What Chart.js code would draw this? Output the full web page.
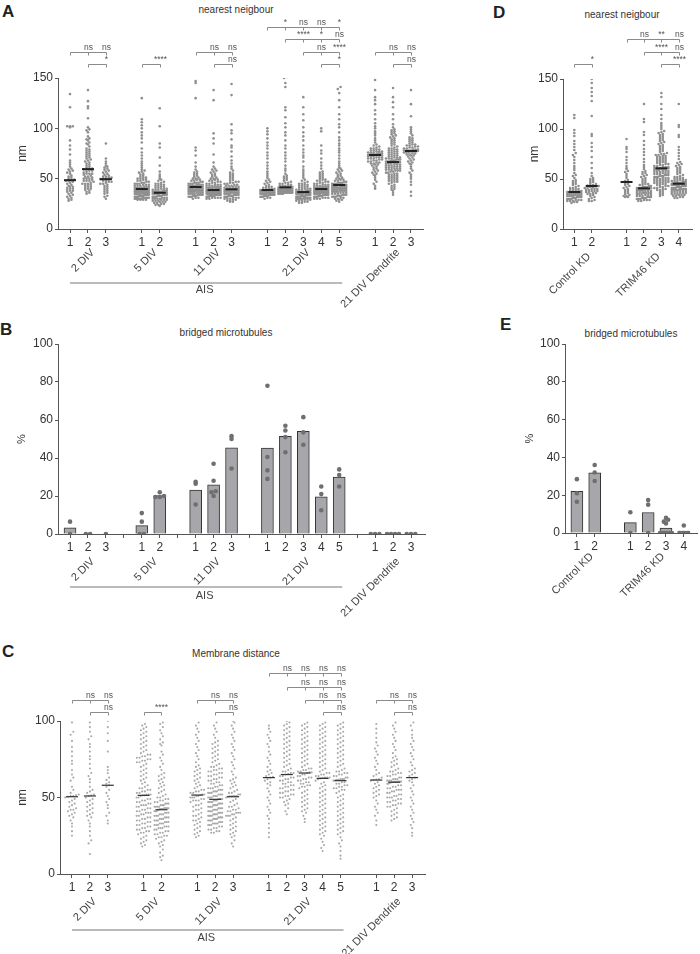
<!DOCTYPE html>
<html><head><meta charset="utf-8">
<script src="https://cdn.jsdelivr.net/npm/chart.js@4.4.1/dist/chart.umd.min.js"></script>
<style>
body{margin:0;background:#fff;width:700px;height:954px;position:relative;overflow:hidden;font-family:'Liberation Sans',Arial,Helvetica,sans-serif;}
canvas{position:absolute;}
.t{position:absolute;font-size:10px;color:#333;transform:translate(-50%,-50%);white-space:nowrap;line-height:12px;}
.L{position:absolute;font-size:17px;font-weight:bold;color:#222;line-height:17px;}
</style></head><body>
<div class="L" style="left:2px;top:3px">A</div>
<div class="L" style="left:0px;top:321px">B</div>
<div class="L" style="left:2px;top:643px">C</div>
<div class="L" style="left:493px;top:4px">D</div>
<div class="L" style="left:500px;top:316px">E</div>
<div class="t" style="left:236px;top:10px">nearest neigbour</div>
<div class="t" style="left:622px;top:15px">nearest neigbour</div>
<div class="t" style="left:226px;top:333px">bridged microtubules</div>
<div class="t" style="left:631px;top:334px">bridged microtubules</div>
<div class="t" style="left:236px;top:654px">Membrane distance</div>
<script>
// ---------------- DATA ----------------
const groupsMain = ['2 DIV','5 DIV','11 DIV','21 DIV','21 DIV Dendrite'];
const groupSizesMain = [3,2,3,5,3];
const groupsKD = ['Control KD','TRIM46 KD'];
const groupSizesKD = [2,4];
const aisLabel = 'AIS';
const aisGroups = [0,3];

// Panel A: nearest neighbour (nm)
const nnA_2DIV = [
 [134,121,102,102,102,101,88,83,79,74,68,66,64,62,60,59,58,57,56,55,53,52,51,50,49,48.5,48,48,47,46,45,44,43,42,41,40,40,39,38,37,35,34,33,31,30,29,28,42,38,36,32],
 [138,127,122,120,110,101,99,98,96,92,90,89,88,86,85,84,82,80,79,78,77,76,75,74,73,72,71,70,69,68,67,66,65,64,63,62,61,60,60,59,59,58,58,57,56,55,55,54,53,52,52,51,50,50,49,48,48,47,46,45,45,44,43,42,42,41,40,40,39,38,37,36,35,45,50,55,48,44],
 [85,70,67,65,63,62,61,60,59,58,57,56,55,54,53,52,52,51,51,50,50,49.5,49,48,48,47,47,46,45,45,44,43,42,41,40,39,38,37,36,35,33,32,30]
];
const nnA_5DIV = [
 [130,109,106,103,100,96,93,90,86,80,76,73,70,67,65,63,61,59,58,57,56,55,54,53,52,51,51,50,50,49,49,48,48,47,47,46,46,45,45,45,44,44,44,43,43,43,42,42,42,41,41,41,41,40,40,40,40,39.7,39,39,39,39,38,38,38,38,37,37,37,37,36,36,36,36,35,35,35,35,34,34,34,34,33,33,33,33,32,32,32,32,31,31,31,31,30,30,30,30,29,29,29,29,39,38,37,36,35,34,33,32,31,30,38,36,34],
 [120,102,85,81,71,63,57,54,52,50,49,48,47,46,45,45,44,44,43,43,42,42,41,41,40,40,40,39,39,39,38,38,38,37,37,37,37,37,36,36,36,36,35,35,35,35,34,34,34,34,33,33,33,33,32,32,32,32,31,31,31,30,30,30,30,29,29,29,28,28,28,27,27,27,26,26,25,25,24,24,23]
];
const nnA_11DIV = [
 [147,145,130,81,78,73,66,62,59,57,56,55,54,53,52,51,50,50,49,49,48,48,47,47,46,46,46,45,45,45,44,44,44,44,43,43,43,43,42,42,42,42,42,42,42,41.7,41,41,41,41,41,40,40,40,40,40,39,39,39,39,39,38,38,38,38,38,37,37,37,37,36,36,36,36,35,35,35,35,34,34,34,34,33,33,33,32,32,32,31,31,30],
 [138,128,95,90,85,74,66,62,60,59,58,57,56,55,54,53,52,51,50,50,49,49,48,48,47,47,46,46,45,45,44,44,44,43,43,43,42,42,42,42,41,41,41,41,40,40,40,40,40,39,39,39,39,39,39,38.7,38,38,38,38,38,38,37,37,37,37,37,37,36,36,36,36,36,36,35,35,35,35,35,35,34,34,34,34,34,34,33,33,33,33,33,33,32,32,32,32,31,31,31,31,30,30,38,37,36,35,34,33,36,35,34],
 [144,133,104,98,95,89,83,81,77,72,68,65,62,60,58,56,55,54,53,52,51,50,49,48,47,47,46,46,45,45,44,44,43,43,43,42,42,42,41,41,41,40,40,40,40,39.4,39,39,39,39,38,38,38,38,37,37,37,37,36,36,36,36,35,35,35,35,34,34,34,34,33,33,33,33,32,32,32,31,31,31,30,30,30,29,29,28,28,27,27,39,36]
];
const nnA_21DIV = [
 [100,97,94,90,86,83,80,76,73,70,66,63,60,57,55,53,51,49,48,47,46,45,44,43,42,42,41,41,40,40,40,39,39,38.7,38,38,38,38,37,37,37,37,36,36,36,36,35,35,35,35,34,34,34,34,33,33,33,33,32,32,32,31,31,30,36,35,34],
 [151,150,145,141,121,118,111,105,101,96,93,88,83,80,76,73,70,67,63,60,58,55,53,52,51,50,49,48,47,46,46,45,45,44,44,43,43,43,42,42,42,42,41.4,41,41,41,41,41,40,40,40,40,40,39,39,39,39,39,38,38,38,38,38,37,37,37,37,37,36,36,36,36,36,35,35,35,35,40,39,38,37,36,41,39,37],
 [131,121,114,108,101,96,92,88,83,79,76,73,71,67,62,59,57,55,53,51,49,48,47,46,45,45,44,44,43,43,42,42,41,41,40,40,40,39,39,39,38,38,38,38,37,37,37,37,37,37,36.7,36,36,36,36,36,35,35,35,35,35,34,34,34,34,34,33,33,33,33,33,32,32,32,32,32,31,31,31,31,30,30,30,30,29,29,29,28,28,28,27,27,26,26,36,35,34,33,32,31,30],
 [100,97,83,78,75,70,66,63,60,57,56,55,54,53,52,51,50,49,49,48,48,47,47,46,46,45,45,44,44,44,43,43,43,42,42,42,42,41,41,41,41,40,40,40,40,40,40,40,40,40,39.7,39,39,39,39,39,39,38,38,38,38,38,38,37,37,37,37,37,36,36,36,36,36,35,35,35,35,35,34,34,34,34,34,33,33,33,33,32,32,32,32,31,31,31,30,30,30,39,38,37,36],
 [141,139,135,128,121,114,109,104,101,96,91,88,85,83,80,78,76,73,70,67,65,63,61,60,59,58,57,56,55,54,53,52,51,50,50,49,49,48,48,47,47,46,46,46,45,45,45,44,44,44,44,44,43.7,43,43,43,43,42,42,42,42,41,41,41,41,40,40,40,40,39,39,39,39,38,38,38,38,37,37,37,37,36,36,36,35,35,35,34,34,34,33,33,33,32,32,32,31,31,30,30,29,29,28,27,40]
];
const nnA_Dend = [
 [148,138,131,128,124,118,114,109,105,102,100,97,95,93,90,88,86,84,83,82,81,80,80,79,79,78,78,77,77,77,76,76,76,75,75,75,75,74,74,74,74,74,73.5,73,73,73,72,72,72,71,71,71,70,70,70,69,69,68,68,67,67,66,66,65,65,64,64,63,62,61,60,59,58,57,56,55,54,53,51,49,47,45,43,41,40],
 [140,131,126,121,114,109,104,101,99,98,97,96,95,94,93,92,91,90,89,88,87,86,85,84,83,82,81,80,80,79,79,78,78,77,77,76,76,75,75,74,74,73,73,72,72,71,71,71,70,70,70,69,69,69,68,68,68,67,67,67,66.5,66,66,66,65,65,65,64,64,64,63,63,63,62,62,62,61,61,61,60,60,60,59,59,59,58,58,58,57,57,56,56,55,55,54,54,53,53,52,52,51,51,50,50,49,49,48,48,47,47,46,45,44,43,42,41,40,39,38,36,34],
 [138,124,112,101,99,97,95,93,91,90,89,88,87,86,85,84,84,83,83,82,82,81,81,80,80,79,79,79,78,78,78,78,77.5,77,77,77,76,76,76,75,75,74,74,73,73,72,71,70,69,68,67,66,65,64,62,60,58,56,54,52,50,47,44,37,33]
];

// Panel B: bridged microtubules (%) per experiment
const brB_2DIV = [[6.5,0],[0,0],[0]];
const brB_5DIV = [[11,6.5,0,0],[22,20,19.5,19.5]];
const brB_11DIV = [[27.5,26.5,15.5],[37,28,22.5,22,20],[51.5,50,34.5]];
const brB_21DIV = [[78,40.5,33.5,29],[57,54.5,51,43],[61.5,53.5,47],[25,21,12.5],[34,31,25]];
const brB_Dend = [[0,0,0],[0,0,0,0],[0,0,0]];

// Panel C: membrane distance (nm)
const mdC_2DIV = [
 [99,93,91,87,83,80,77,74,72,68,65,63,61,57,55,53,52,51.5,51,51,50.5,50,49,48,47,46,45,44,43,42,42,41,40,39,38,37,35,33,31,28,25],
 [99,96,93,90,88,85,83,80,77,75,72,69,66,64,62,60,57,55,54,53,52,51.5,51,50,49,48,47,46,45,44,43,42,41,40,39,38,37,35,33,31,28,25,22,20,13],
 [100,96,92,87,80,70,68,66,63,61.5,60,59,58,57,55,53,51,49,47,45,43,40,38,35,33]
];
const mdC_5DIV = [
 [98,97,96,95,94,93,92,91,90,89,88,87,86,85,84,83,82,81,80,79,78,78,77,77,76,76,75,75,74,74,73,73,72,71,70,69,68,67,66,65,64,63,62,61,60,59,58,57,56,56,55,55,54,54,53,53,52,52,52,51.5,51.4,51,50,50,49,49,48,48,47,47,46,46,45,45,44,44,43,43,42,42,41,41,40,40,39,39,38,38,37,37,36,36,35,35,34,34,33,33,32,32,31,31,30,30,29,29,28,28,27,27,26,25,24,23,22,21,20,19,18,45,40],
 [99,98,96,94,92,90,88,86,85,84,80,78,76,74,72,70,68,66,65,64,63,62,61,60,59,58,57,56,55,54,53,52,51,50,50,49,49,48,48,47,47,46,46,46,45,45,45,44,44,44,44,43,43,43,43,43,42.5,42.5,42.5,42.5,42,42,41,41,41,40,40,40,39,39,39,38,38,38,37,37,37,36,36,36,35,35,35,34,34,34,33,33,33,32,32,32,31,31,31,30,30,30,29,29,28,28,27,27,26,26,25,25,24,24,23,22,21,20,19,18,16,14,12,11,9]
];
const mdC_11DIV = [
 [99,97,95,93,91,89,87,85,83,81,79,77,75,73,71,70,69,68,67,66,65,64,63,62,61,60,59,58,57,56,55,55,54,54,53,53,52,52,51.6,51,51,50,50,49,49,48,48,47,46,45,44,43,42,41,40,39,38,37,36,35,34,33,32,31,30,29,28,27,26,25,24,50,48,45,42,38,35],
 [99,97,95,93,91,89,87,86,85,84,83,82,81,80,79,78,77,76,75,74,73,72,71,70,70,69,69,68,68,67,67,66,66,65,65,64,64,63,63,62,62,61,61,60,60,59,59,58,58,57,57,56,56,56,55,55,55,54,54,54,53,53,53,52,52,52,51,51,51,50,50,50,49,49,49,48.8,48,48,48,47,47,47,46,46,46,45,45,45,44,44,44,43,43,43,42,42,42,41,41,41,40,40,40,39,39,39,38,38,38,37,37,37,36,36,36,35,35,35,34,34,34,33,33,33,32,32,32,31,31,30,30,29,29,28,28,27,27,47,45,43,41,39,37,35,33,46,44,42,40,38,36],
 [100,99,97,95,93,91,89,87,85,83,81,79,77,75,73,71,69,67,65,63,62,61,60,59,58,57,56,55,54,53,53,52,52,51,51,51,50.8,50.8,50.5,50,49,48,47,46,45,44,43,42,41,41,40,40,39,39,38,38,37,36,35,34,33,32,31,30,29,28,27,26,25,24,22,20,18,44,42,40,38]
];
const mdC_21DIV = [
 [97,95,93,91,89,87,85,83,80,78,76,74,72,70,68,67,66,65,64,63.5,63,62,61,60,59,58,56,54,52,50,48,46,44,42,40,38,36,33,30,27,24],
 [100,99,98,97,96,95,94,93,92,91,90,89,88,87,86,85,84,83,82,81,80,79,78,77,76,75,74,73,72,71,70,69,68,67,67,66,66,65.5,65,64,64,63,63,62,62,61,61,60,60,59,59,58,58,57,57,56,56,55,55,54,54,53,53,52,52,51,51,50,50,49,48,47,46,45,43,41,39],
 [99,98,97,96,95,94,93,92,91,90,89,88,87,86,85,84,83,82,81,80,79,78,77,76,75,74,73,72,71,70,69,69,68,68,67,67,66.5,66.5,66,65,65,64,64,63,63,62,62,61,61,60,60,59,59,58,58,57,57,56,55,54,53,52,51,50,49,48,47,46,45,44,43,42,41,40,38,36,34],
 [99,98,97,96,95,94,93,92,91,90,89,88,87,86,85,84,83,82,81,80,79,78,77,76,75,74,73,72,71,70,69,68,67,66,66,65,65,64,64,63,63,63,62.8,62.5,62,61,60,59,58,57,56,55,54,53,52,51,50,49,48,47,46,45,44,43,42,41,40,39,38,37,36,35,34,33,32,31,30,29,28,27,26,25,23,21,19,17,15],
 [99,98,97,96,95,94,93,92,91,90,89,88,87,86,85,84,83,82,81,80,79,78,77,76,75,74,73,72,71,70,69,68,67,67,66,66,65,65,64,64,63,63,62,62,62,61.5,61.5,61.2,61,60,60,59,59,58,58,57,57,56,56,55,55,54,53,52,51,50,49,48,47,46,45,44,43,42,41,40,39,38,37,36,35,34,33,32,31,30,29,28,27,26,24,22,20,18,15,12,10]
];
const mdC_Dend = [
 [98,95,92,89,86,84,82,80,78,76,74,72,70,68,66,65,64,63,62,61.8,61.4,61,60,59,58,57,56,55,54,53,52,51,50,48,46,44,42,40,38,35,32],
 [99,97,95,93,91,89,87,85,83,81,79,77,76,75,74,73,72,71,70,69,68,67,67,66,66,65,65,64,64,63,63,62,62,62,61,61,61,60.5,60.5,60.5,60.3,60.3,60.2,60.2,60.1,60,59.8,59.5,59,59,58,58,57,57,56,56,55,55,54,54,53,53,52,52,51,51,50,50,49,49,48,48,47,47,46,46,45,45,44,44,43,42,41,40,39,38,37,36,35,55,50],
 [99,97,94,91,89,87,85,83,81,79,77,75,73,71,69,68,67,66,65,64,63,62,61,60,58,56,54,52,50,48,46,44,42,40,38,36,34,32,30,27,25]
];

// Panel D: nearest neighbour (nm), knock-down
const nnD_Control = [
 [114,111,99,96,93,88,85,82,79,76,74,72,69,66,63,61,59,56,54,53,51,49,48,47,46,45,44,43,42,41,41,40,40,39,39,38,38,38,37,37,37,36,36,36,35,35,35,35,34,34,34,33,33,33,33,32,32,32,31,31,31,30,30,30,29,29,29,28,28,27,27,26,36,34,32,30,28],
 [150,146,141,137,133,128,113,95,93,86,82,78,72,66,61,56,53,51,50,49,48,47,46,45,44,44,43.5,43,42.5,42,42,41,41,40,40,39,39,38,38,37,37,36,36,35,35,34,33,32,31,30,29,28,28,40,38]
];
const nnD_TRIM = [
 [90,82,80,77,72,69,66,63,61,60,58,57,55,53,51,49,48,47,46,45,44,43,42,41,40,39,38,37,36,35,34,33,33,32,32],
 [125,110,107,97,94,88,84,80,77,74,70,67,64,62,60,58,57,56,55,54,53,52,51,50,49,48,47,46,45,45,44,44,43,43,42,42,42,41,41,41,40.7,40,40,40,39,39,39,38,38,38,37,37,37,36,36,36,35,35,35,34,34,34,33,33,33,32,32,32,31,31,31,30,30,30,29,29,29,28,28,39,36],
 [136,132,125,120,114,110,106,104,102,100,98,97,96,95,94,93,92,91,90,89,88,87,86,85,84,83,82,81,80,79,78,77,76,75,75,74,74,73,73,72,72,71,71,70,70,69,69,68,68,67,67,66,66,65,65,64,64,63,63,62,62,62,61,61,61,60.7,60,60,60,59,59,59,58,58,58,57,57,57,56,56,56,55,55,55,54,54,54,53,53,53,52,52,52,51,51,51,50,50,50,49,49,49,48,48,48,47,47,47,46,46,46,45,45,44,44,43,43,42,42,41,41,40,40,39,39,38,37,36,35,34,33],
 [125,104,102,94,92,82,79,76,73,70,67,66,65,64,63,62,61,60,59,58,57,56,55,54,53,52,52,51,51,50,50,49,49,49,48,48,48,47,47,47,47,46,46,46,46,46,46,45.5,45.5,45.5,45.3,45,45,45,45,44,44,44,44,43,43,43,43,42,42,42,42,41,41,41,41,40,40,40,40,39,39,39,39,38,38,38,37,37,37,36,36,36,35,35,35,34,34,34,33,33,32,32,31,31,44]
];

// Panel E: bridged microtubules (%), knock-down
const brE_Control = [[28.5,21,16.5],[36,32,27.5]];
const brE_TRIM = [[11,0],[17.5,15,0],[8,7,6,5,0,0,0,0,0,0],[4,0,0,0]];

// Significance: [group, row, first category, labels for following categories]
const sigA = [[0,2,0,['ns','ns']],[0,3,1,['*']],[1,3,0,['****']],[2,2,0,['ns','ns']],[2,3,1,['ns']],
  [3,0,0,['*','ns','ns','*']],[3,1,1,['****','*','ns']],[3,2,2,['ns','****']],[3,3,3,['*']],[4,2,0,['ns','ns']],[4,3,1,['ns']]];
const sigC = [[0,2,0,['ns','ns']],[0,3,1,['ns']],[1,3,0,['****']],[2,2,0,['ns','ns']],[2,3,1,['ns']],
  [3,0,0,['ns','ns','ns','ns']],[3,1,1,['ns','ns','ns']],[3,2,2,['ns','ns']],[3,3,3,['ns']],[4,2,0,['ns','ns']],[4,3,1,['ns']]];
const sigD = [[0,3,0,['*']],[1,1,0,['ns','**','ns']],[1,2,1,['****','ns']],[1,3,2,['****']]];

// ---------------- RENDERING ----------------
const FONT = "'Liberation Sans', Arial, Helvetica, sans-serif";
Chart.defaults.font.family = FONT;
const AX = '#555';

function catPositions(sizes){const p=[];let x=1;sizes.forEach(n=>{for(let i=0;i<n;i++){p.push(x);x++;}x++;});return p;}
function median(a){const s=[...a].sort((x,y)=>x-y);const n=s.length;return n%2?s[(n-1)/2]:(s[n/2-1]+s[n/2])/2;}
function mean(a){return a.reduce((s,v)=>s+v,0)/a.length;}

function swarm(vals,pos,chart,st){
  const xs=chart.scales.x, ys=chart.scales.y;
  const ppu=xs.getPixelForValue(pos+1)-xs.getPixelForValue(pos);
  const rows=new Map();
  [...vals].sort((a,b)=>a-b).forEach(v=>{const k=Math.round(ys.getPixelForValue(v)/st.rowH);if(!rows.has(k))rows.set(k,[]);rows.get(k).push(v);});
  const out=[];
  rows.forEach(r=>{const n=r.length;let s=st.sp;if(n>1&&(n-1)*s>st.maxW)s=st.maxW/(n-1);
    r.forEach((v,i)=>out.push({x:pos+((i-(n-1)/2)*s)/ppu,y:v}));});
  return out;
}

const decor={id:'decor',afterDraw(chart){
  const c=chart.$cfg; if(!c) return;
  const P=c.P, ctx=chart.ctx, xs=chart.scales.x, a=chart.chartArea;
  const px=v=>xs.getPixelForValue(v);
  ctx.save();
  ctx.fillStyle='#333'; ctx.font=P.ytf+'px '+FONT; ctx.textAlign='center'; ctx.textBaseline='middle';
  ctx.save(); ctx.translate(a.left-P.ytOff,(a.top+a.bottom)/2); ctx.rotate(-Math.PI/2); ctx.fillText(P.ytitle,0,0); ctx.restore();
  ctx.font=P.glf+'px '+FONT; ctx.fillStyle='#444'; ctx.textAlign='right'; ctx.textBaseline='top';
  c.groupIdx.forEach((idx,g)=>{const cx=(px(c.pos[idx[0]])+px(c.pos[idx[idx.length-1]]))/2;
    ctx.save(); ctx.translate(cx+P.glDx,a.bottom+P.glDy); ctx.rotate(-Math.PI/4); ctx.fillText(P.names[g],0,0); ctx.restore();});
  if(P.ais){
    const i0=c.groupIdx[aisGroups[0]][0], gl=c.groupIdx[aisGroups[1]], i1=gl[gl.length-1];
    const x0=px(c.pos[i0]), x1=px(c.pos[i1]); const y=a.bottom+P.ais.dy;
    ctx.strokeStyle='#a3a3a3'; ctx.lineWidth=1.5; ctx.beginPath(); ctx.moveTo(x0,y); ctx.lineTo(x1+3,y); ctx.stroke();
    ctx.font='11px '+FONT; ctx.fillStyle='#444'; ctx.textAlign='center'; ctx.textBaseline='middle';
    ctx.fillText(aisLabel,(x0+x1)/2,y+P.ais.tdy);
  }
  (P.sig||[]).forEach(([g,lev,from,labels])=>{
    const idx=c.groupIdx[g].slice(from); const xp=idx.map(i=>Math.round(px(c.pos[i]))+0.5);
    const y=Math.round(a.top-P.levels[lev])+0.5;
    ctx.strokeStyle='#8a8a8a'; ctx.lineWidth=1; ctx.beginPath(); ctx.moveTo(xp[0],y); ctx.lineTo(xp[xp.length-1],y);
    xp.forEach(x=>{ctx.moveTo(x,y);ctx.lineTo(x,y+3);}); ctx.stroke();
    ctx.font='8.5px '+FONT; ctx.fillStyle='#555'; ctx.textAlign='center'; ctx.textBaseline='bottom';
    labels.forEach((t,j)=>ctx.fillText(t,xp[j+1],y-0.5));
  });
  ctx.restore();
}};

function buildPanel(P){
  const cv=document.createElement('canvas');
  cv.width=P.w; cv.height=P.h; cv.style.left=P.left+'px'; cv.style.top=P.top+'px';
  document.body.appendChild(cv);
  const flat=[].concat(...P.groups);
  const pos=catPositions(P.sizes);
  const labelMap={}; const groupIdx=[]; let k=0;
  P.sizes.forEach(n=>{const g=[];for(let i=0;i<n;i++){labelMap[pos[k]]=String(i+1);g.push(k);k++;}groupIdx.push(g);});
  const tickVals=P.allTicks?Array.from({length:pos[pos.length-1]},(_,i)=>i+1):pos;
  const isBar=P.kind==='bar';
  const dots={type:'scatter',data:[],pointRadius:P.pr,pointHoverRadius:P.pr,pointBackgroundColor:P.pc,pointBorderWidth:0};
  const datasets=[];
  if(isBar){
    datasets.push(dots);
    datasets.push({type:'bar',data:flat.map((v,i)=>({x:pos[i],y:mean(v)})),barThickness:P.barW,
      backgroundColor:'#a7a7ab',borderColor:'#333',borderWidth:1,borderSkipped:'start'});
  } else {
    datasets.push({type:'scatter',data:flat.map((v,i)=>({x:pos[i],y:median(v)})),pointStyle:'line',
      pointRadius:P.medR,pointHoverRadius:P.medR,pointBorderColor:P.medC,pointBorderWidth:P.medW,pointBackgroundColor:P.medC});
    datasets.push(dots);
  }
  const chart=new Chart(cv,{type:isBar?'bar':'scatter',data:{datasets},options:{
    responsive:false,animation:false,events:[],devicePixelRatio:1,
    layout:{padding:{left:0,right:P.w-P.area.r,top:P.area.t,bottom:P.h-P.area.b-P.xh}},
    plugins:{legend:{display:false},tooltip:{enabled:false},title:{display:false}},
    scales:{
      x:{type:'linear',min:P.xmin,max:P.xmax,bounds:'data',offset:false,
        afterBuildTicks:s=>{s.ticks=tickVals.map(v=>({value:v}));},
        afterFit:s=>{s.height=P.xh;},
        grid:{display:true,drawOnChartArea:false,drawTicks:true,tickLength:4,color:AX,offset:false},
        border:{display:true,color:AX,width:1},
        ticks:{autoSkip:false,maxRotation:0,minRotation:0,padding:2,color:'#333',font:{size:P.tf},callback:v=>labelMap[v]||''}},
      y:{type:'linear',min:0,max:P.ymax,
        ticks:{stepSize:P.ystep,padding:2,color:'#333',font:{size:P.tf}},
        afterFit:s=>{s.width=P.area.l;},
        grid:{display:true,drawOnChartArea:false,drawTicks:true,tickLength:3,color:AX},
        border:{display:true,color:AX,width:1}}
    }},plugins:[decor]});
  chart.$cfg={P,pos,groupIdx};
  const pts=[]; flat.forEach((vals,i)=>pts.push(...swarm(vals,pos[i],chart,P.sw)));
  dots.data=pts; chart.update('none');
  return chart;
}

const ptsStyleA={pr:1.3,pc:'#8f8f8f',medR:6,medW:2,medC:'#222',sw:{rowH:2.2,sp:2.8,maxW:14}};
buildPanel(Object.assign({left:0,top:0,w:440,h:310,area:{l:58,r:423,t:78,b:229},xh:20,xmin:0.33,xmax:20.67,ymax:150,ystep:50,tf:12,
  ytitle:'nm',ytf:12,ytOff:35,glf:11,glDx:1,glDy:18,ais:{dy:54,tdy:7},levels:[51,39,26,14],sig:sigA,
  names:groupsMain,sizes:groupSizesMain,groups:[nnA_2DIV,nnA_5DIV,nnA_11DIV,nnA_21DIV,nnA_Dend]},ptsStyleA));
buildPanel({left:0,top:320,w:440,h:300,area:{l:58,r:425,t:24,b:214},xh:20,xmin:0.33,xmax:20.78,ymax:100,ystep:20,tf:12,
  ytitle:'%',ytf:11,ytOff:36,glf:11,glDx:1,glDy:22,ais:{dy:53,tdy:9},allTicks:true,kind:'bar',barW:12,
  pr:2.3,pc:'#6f6f6f',sw:{rowH:4,sp:4.3,maxW:12},
  names:groupsMain,sizes:groupSizesMain,groups:[brB_2DIV,brB_5DIV,brB_11DIV,brB_21DIV,brB_Dend]});
buildPanel({left:0,top:630,w:440,h:324,area:{l:60,r:425,t:91,b:244},xh:20,xmin:0.33,xmax:20.72,ymax:100,ystep:50,tf:12,
  ytitle:'nm',ytf:12,ytOff:37,glf:11,glDx:1,glDy:22,ais:{dy:56,tdy:8},levels:[48,34,21,9],sig:sigC,
  pr:1.05,pc:'#a9a9a9',medR:6,medW:1.2,medC:'#333',sw:{rowH:4.5,sp:2.7,maxW:14},
  names:groupsMain,sizes:groupSizesMain,groups:[mdC_2DIV,mdC_5DIV,mdC_11DIV,mdC_21DIV,mdC_Dend]});
buildPanel(Object.assign({left:470,top:0,w:230,h:310,area:{l:93,r:230,t:79,b:229},xh:20,xmin:0.35,xmax:7.76,ymax:150,ystep:50,tf:12,
  ytitle:'nm',ytf:12,ytOff:28,glf:11,glDx:2,glDy:22,levels:[51,40,27,15],sig:sigD,
  names:groupsKD,sizes:groupSizesKD,groups:[nnD_Control,nnD_TRIM]},ptsStyleA));
buildPanel({left:470,top:320,w:230,h:300,area:{l:95,r:229,t:24,b:213},xh:20,xmin:0.333,xmax:7.78,ymax:100,ystep:20,tf:12,
  ytitle:'%',ytf:11,ytOff:35,glf:11,glDx:2,glDy:18,kind:'bar',barW:12,
  pr:2.3,pc:'#6f6f6f',sw:{rowH:4,sp:4.3,maxW:12},
  names:groupsKD,sizes:groupSizesKD,groups:[brE_Control,brE_TRIM]});
</script>
</body></html>
